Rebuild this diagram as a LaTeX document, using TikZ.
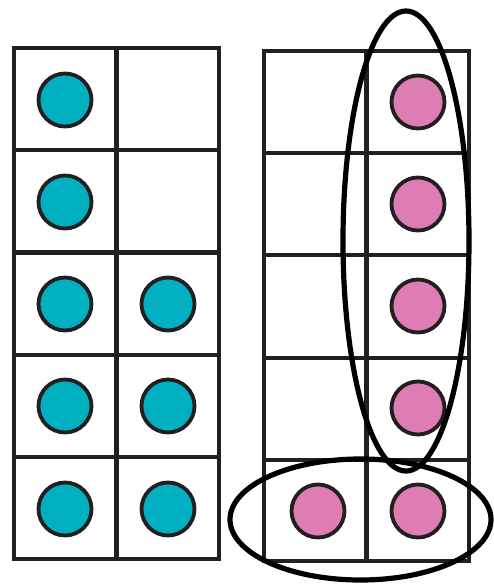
\documentclass[tikz,border=0pt]{standalone}
\usetikzlibrary{shapes.geometric}
\definecolor{gridc}{HTML}{231F20}
\definecolor{tealc}{HTML}{00B0C1}
\definecolor{pinkc}{HTML}{DE7DB4}
\tikzset{
  gridline/.style={draw=gridc, line width=4.6pt, line cap=rect},
  dot/.style={circle, draw=gridc, line width=3.8pt, minimum size=53pt, inner sep=0pt},
  tealdot/.style={dot, fill=tealc},
  pinkdot/.style={dot, fill=pinkc},
  loop/.style={draw=black, line width=5.2pt}
}
\begin{document}
\begin{tikzpicture}[x=1pt,y=-1pt]
\useasboundingbox (0,0) rectangle (494,587);
% left ten-frame
\draw[gridline] (14,48) rectangle (219,559);
\draw[gridline] (116.5,48) -- (116.5,559);
\foreach \yy in {150,252.5,355,457}{\draw[gridline] (14,\yy) -- (219,\yy);}
% right ten-frame
\draw[gridline] (264,51) rectangle (469,561);
\draw[gridline] (366.5,51) -- (366.5,561);
\foreach \yy in {153,255,358,460}{\draw[gridline] (264,\yy) -- (469,\yy);}
% teal dots
\node[tealdot] (t1) at (65,100) {};
\node[tealdot] (t2) at (65,202) {};
\node[tealdot] (t3) at (65,304) {};
\node[tealdot] (t4) at (65,406) {};
\node[tealdot] (t5) at (65,509) {};
\node[tealdot] (t6) at (168,304) {};
\node[tealdot] (t7) at (168,406) {};
\node[tealdot] (t8) at (168,509) {};
% pink dots
\node[pinkdot] (p1) at (418,102) {};
\node[pinkdot] (p2) at (418,204) {};
\node[pinkdot] (p3) at (418,306) {};
\node[pinkdot] (p4) at (418,408) {};
\node[pinkdot] (p5) at (418,511) {};
\node[pinkdot] (p6) at (318,511) {};
% loops
\draw[loop] (406,241) ellipse [x radius=63, y radius=230];
\draw[loop] (360.5,519.5) ellipse [x radius=130.5, y radius=60.5];
\end{tikzpicture}
\end{document}
